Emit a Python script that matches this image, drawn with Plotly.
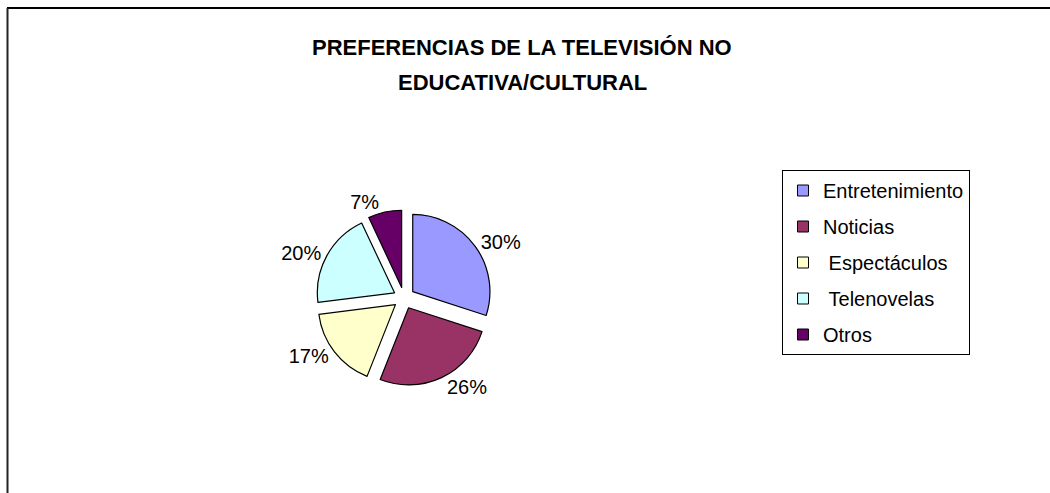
import plotly.graph_objects as go

categories = ["Entretenimiento", "Noticias", "\u00a0Espectáculos", "\u00a0Telenovelas", "Otros"]
values = [30, 26, 17, 20, 7]
colors = ["#9999FF", "#993366", "#FFFFCC", "#CCFFFF", "#660066"]
title_lines = ["PREFERENCIAS DE LA TELEVISIÓN NO", "EDUCATIVA/CULTURAL"]

W, H = 1050, 493
FONT = "Liberation Sans, Arial, sans-serif"

fig = go.Figure()

# pie
cx, cy, half = 404, 298, 88
fig.add_trace(go.Pie(
    labels=categories, values=values, sort=False, direction="clockwise", rotation=0,
    marker=dict(colors=colors, line=dict(color="black", width=1.2)),
    pull=[0.14] * len(values),
    textinfo="percent", textposition="outside",
    textfont=dict(family=FONT, size=20, color="black"),
    showlegend=False,
    domain=dict(x=[(cx - half) / W, (cx + half) / W],
                y=[(H - cy - half) / H, (H - cy + half) / H]),
))

# legend entries
for name, col in zip(categories, colors):
    fig.add_trace(go.Scatter(
        x=[None], y=[None], mode="markers", name=name, legendgroup=name,
        marker=dict(symbol="square", size=11, color=col, line=dict(color="black", width=1)),
    ))

for i, (line, yy) in enumerate(zip(title_lines, [47, 83])):
    fig.add_annotation(text=f"<b>{line}</b>", x=522 / W, y=1 - yy / H, xref="paper", yref="paper",
                       showarrow=False, xanchor="center", yanchor="middle",
                       font=dict(family=FONT, size=22, color="black"))

# outer frame (clipped at right and bottom)
fig.add_shape(type="line", xref="paper", yref="paper", x0=7 / W, x1=1.01, y0=1 - 8 / H, y1=1 - 8 / H,
              line=dict(color="black", width=2))
fig.add_shape(type="line", xref="paper", yref="paper", x0=7.5 / W, x1=7.5 / W, y0=-0.01, y1=1 - 8 / H,
              line=dict(color="#222222", width=2))

fig.update_layout(
    width=W, height=H, margin=dict(l=0, r=0, t=0, b=0),
    paper_bgcolor="white", plot_bgcolor="white",
    xaxis=dict(visible=False), yaxis=dict(visible=False),
    legend=dict(x=782 / W, y=1 - 170 / H, xanchor="left", yanchor="top",
                bordercolor="black", borderwidth=1, bgcolor="white",
                font=dict(family=FONT, size=20, color="black"),
                tracegroupgap=7, traceorder="grouped"),
)

fig.write_html("out.html")
